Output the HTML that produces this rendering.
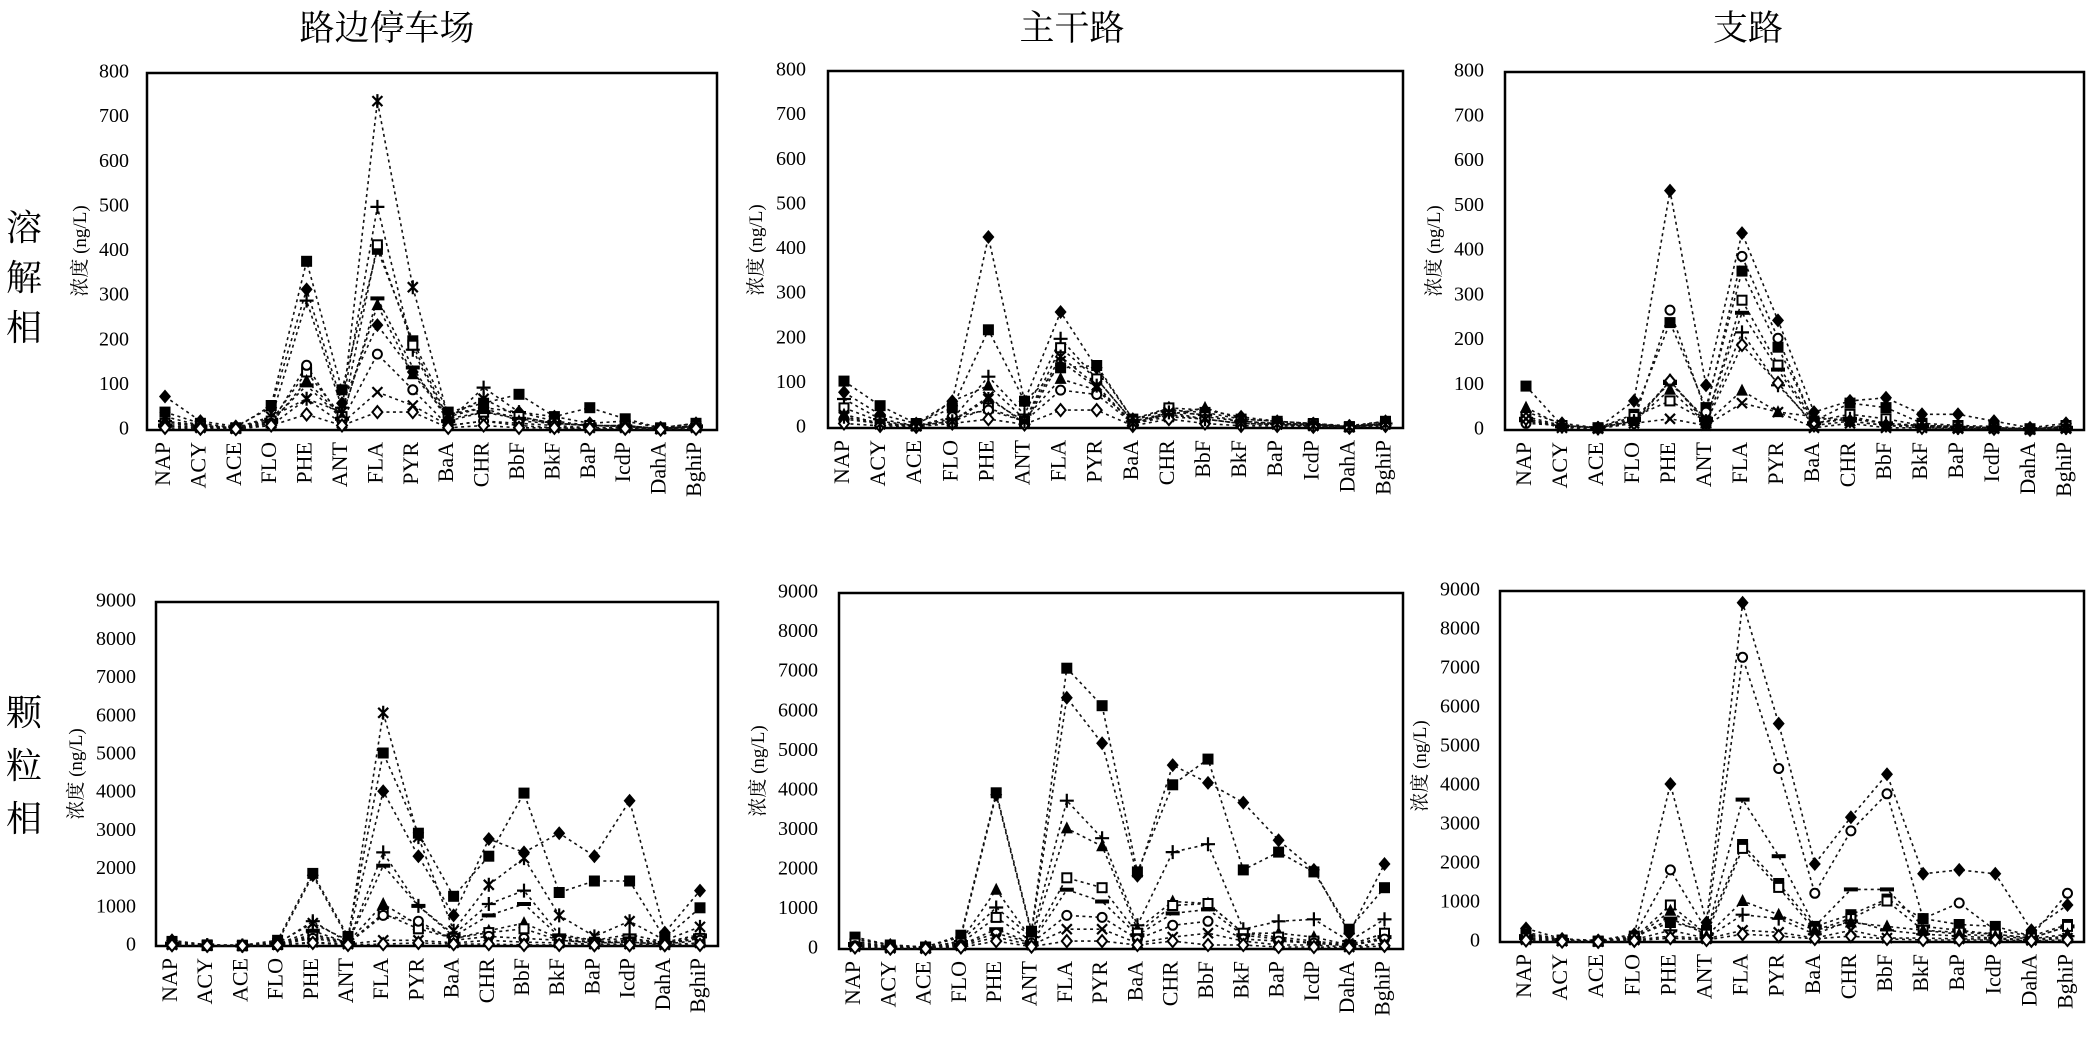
<!DOCTYPE html>
<html><head><meta charset="utf-8"><style>
html,body{margin:0;padding:0;background:#fff;}
svg{display:block;}
text{font-family:"Liberation Serif","Noto Serif CJK SC","Noto Sans CJK SC",serif;fill:#000;}
.t{font-size:20px;text-anchor:end;dominant-baseline:middle;}
.c{font-size:22px;text-anchor:end;dominant-baseline:middle;}
.yt{font-size:19px;text-anchor:middle;}
.h{font-size:35px;text-anchor:middle;}
.r{font-size:36px;text-anchor:middle;}
</style></head><body>
<svg id="s" width="2091" height="1046" viewBox="0 0 2091 1046" xmlns="http://www.w3.org/2000/svg">
<rect width="2091" height="1046" fill="#fff"/>
<text class="h" x="387" y="40">路边停车场</text>
<text class="h" x="1072" y="40">主干路</text>
<text class="h" x="1748" y="40">支路</text>
<text class="r" x="24" y="240">溶</text><text class="r" x="24" y="290">解</text><text class="r" x="24" y="340">相</text>
<text class="r" x="24" y="725">颗</text><text class="r" x="24" y="778">粒</text><text class="r" x="24" y="831">相</text>

<!-- Panel A -->
<rect x="147" y="73" width="570" height="357" fill="none" stroke="#000" stroke-width="2.5"/>
<g transform="translate(129,0)">
<text class="t" y="430">0</text><text class="t" y="385.4">100</text><text class="t" y="340.8">200</text><text class="t" y="296.1">300</text><text class="t" y="251.5">400</text><text class="t" y="206.9">500</text><text class="t" y="162.3">600</text><text class="t" y="117.6">700</text><text class="t" y="73">800</text>
</g>
<text class="yt" transform="translate(86,251) rotate(-90)">浓度 (ng/L)</text>
<g transform="translate(165,442)">
<text class="c" transform="translate(0,0) rotate(-90)">NAP</text><text class="c" transform="translate(35.4,0) rotate(-90)">ACY</text><text class="c" transform="translate(70.8,0) rotate(-90)">ACE</text><text class="c" transform="translate(106.2,0) rotate(-90)">FLO</text><text class="c" transform="translate(141.6,0) rotate(-90)">PHE</text><text class="c" transform="translate(177,0) rotate(-90)">ANT</text><text class="c" transform="translate(212.4,0) rotate(-90)">FLA</text><text class="c" transform="translate(247.8,0) rotate(-90)">PYR</text><text class="c" transform="translate(283.2,0) rotate(-90)">BaA</text><text class="c" transform="translate(318.6,0) rotate(-90)">CHR</text><text class="c" transform="translate(354,0) rotate(-90)">BbF</text><text class="c" transform="translate(389.4,0) rotate(-90)">BkF</text><text class="c" transform="translate(424.8,0) rotate(-90)">BaP</text><text class="c" transform="translate(460.2,0) rotate(-90)">IcdP</text><text class="c" transform="translate(495.6,0) rotate(-90)">DahA</text><text class="c" transform="translate(531,0) rotate(-90)">BghiP</text>
</g>

<!-- Panel B -->
<rect x="828" y="71" width="575" height="357" fill="none" stroke="#000" stroke-width="2.5"/>
<g transform="translate(806,0)">
<text class="t" y="428">0</text><text class="t" y="383.4">100</text><text class="t" y="338.8">200</text><text class="t" y="294.1">300</text><text class="t" y="249.5">400</text><text class="t" y="204.9">500</text><text class="t" y="160.3">600</text><text class="t" y="115.6">700</text><text class="t" y="71">800</text>
</g>
<text class="yt" transform="translate(762,250) rotate(-90)">浓度 (ng/L)</text>
<g transform="translate(844,440)">
<text class="c" transform="translate(0,0) rotate(-90)">NAP</text><text class="c" transform="translate(36.1,0) rotate(-90)">ACY</text><text class="c" transform="translate(72.2,0) rotate(-90)">ACE</text><text class="c" transform="translate(108.3,0) rotate(-90)">FLO</text><text class="c" transform="translate(144.4,0) rotate(-90)">PHE</text><text class="c" transform="translate(180.5,0) rotate(-90)">ANT</text><text class="c" transform="translate(216.6,0) rotate(-90)">FLA</text><text class="c" transform="translate(252.7,0) rotate(-90)">PYR</text><text class="c" transform="translate(288.8,0) rotate(-90)">BaA</text><text class="c" transform="translate(324.9,0) rotate(-90)">CHR</text><text class="c" transform="translate(361,0) rotate(-90)">BbF</text><text class="c" transform="translate(397.1,0) rotate(-90)">BkF</text><text class="c" transform="translate(433.2,0) rotate(-90)">BaP</text><text class="c" transform="translate(469.3,0) rotate(-90)">IcdP</text><text class="c" transform="translate(505.4,0) rotate(-90)">DahA</text><text class="c" transform="translate(541.5,0) rotate(-90)">BghiP</text>
</g>

<!-- Panel C -->
<rect x="1505" y="72" width="579" height="358" fill="none" stroke="#000" stroke-width="2.5"/>
<g transform="translate(1484,0)">
<text class="t" y="430">0</text><text class="t" y="385.3">100</text><text class="t" y="340.5">200</text><text class="t" y="295.8">300</text><text class="t" y="251">400</text><text class="t" y="206.3">500</text><text class="t" y="161.5">600</text><text class="t" y="116.8">700</text><text class="t" y="72">800</text>
</g>
<text class="yt" transform="translate(1440,251) rotate(-90)">浓度 (ng/L)</text>
<g transform="translate(1526,442)">
<text class="c" transform="translate(0,0) rotate(-90)">NAP</text><text class="c" transform="translate(36,0) rotate(-90)">ACY</text><text class="c" transform="translate(72,0) rotate(-90)">ACE</text><text class="c" transform="translate(108,0) rotate(-90)">FLO</text><text class="c" transform="translate(144,0) rotate(-90)">PHE</text><text class="c" transform="translate(180,0) rotate(-90)">ANT</text><text class="c" transform="translate(216,0) rotate(-90)">FLA</text><text class="c" transform="translate(252,0) rotate(-90)">PYR</text><text class="c" transform="translate(288,0) rotate(-90)">BaA</text><text class="c" transform="translate(324,0) rotate(-90)">CHR</text><text class="c" transform="translate(360,0) rotate(-90)">BbF</text><text class="c" transform="translate(396,0) rotate(-90)">BkF</text><text class="c" transform="translate(432,0) rotate(-90)">BaP</text><text class="c" transform="translate(468,0) rotate(-90)">IcdP</text><text class="c" transform="translate(504,0) rotate(-90)">DahA</text><text class="c" transform="translate(540,0) rotate(-90)">BghiP</text>
</g>

<!-- Panel D -->
<rect x="156" y="602" width="562" height="344" fill="none" stroke="#000" stroke-width="2.5"/>
<g transform="translate(136,0)">
<text class="t" y="946">0</text><text class="t" y="907.8">1000</text><text class="t" y="869.6">2000</text><text class="t" y="831.3">3000</text><text class="t" y="793.1">4000</text><text class="t" y="754.9">5000</text><text class="t" y="716.7">6000</text><text class="t" y="678.4">7000</text><text class="t" y="640.2">8000</text><text class="t" y="602">9000</text>
</g>
<text class="yt" transform="translate(82,774) rotate(-90)">浓度 (ng/L)</text>
<g transform="translate(172,958)">
<text class="c" transform="translate(0,0) rotate(-90)">NAP</text><text class="c" transform="translate(35.2,0) rotate(-90)">ACY</text><text class="c" transform="translate(70.4,0) rotate(-90)">ACE</text><text class="c" transform="translate(105.6,0) rotate(-90)">FLO</text><text class="c" transform="translate(140.8,0) rotate(-90)">PHE</text><text class="c" transform="translate(176,0) rotate(-90)">ANT</text><text class="c" transform="translate(211.2,0) rotate(-90)">FLA</text><text class="c" transform="translate(246.4,0) rotate(-90)">PYR</text><text class="c" transform="translate(281.6,0) rotate(-90)">BaA</text><text class="c" transform="translate(316.8,0) rotate(-90)">CHR</text><text class="c" transform="translate(352,0) rotate(-90)">BbF</text><text class="c" transform="translate(387.2,0) rotate(-90)">BkF</text><text class="c" transform="translate(422.4,0) rotate(-90)">BaP</text><text class="c" transform="translate(457.6,0) rotate(-90)">IcdP</text><text class="c" transform="translate(492.8,0) rotate(-90)">DahA</text><text class="c" transform="translate(528,0) rotate(-90)">BghiP</text>
</g>

<!-- Panel E -->
<rect x="839" y="593" width="564" height="356" fill="none" stroke="#000" stroke-width="2.5"/>
<g transform="translate(818,0)">
<text class="t" y="949">0</text><text class="t" y="909.4">1000</text><text class="t" y="869.9">2000</text><text class="t" y="830.3">3000</text><text class="t" y="790.8">4000</text><text class="t" y="751.2">5000</text><text class="t" y="711.7">6000</text><text class="t" y="672.1">7000</text><text class="t" y="632.6">8000</text><text class="t" y="593">9000</text>
</g>
<text class="yt" transform="translate(764,771) rotate(-90)">浓度 (ng/L)</text>
<g transform="translate(855,961)">
<text class="c" transform="translate(0,0) rotate(-90)">NAP</text><text class="c" transform="translate(35.3,0) rotate(-90)">ACY</text><text class="c" transform="translate(70.6,0) rotate(-90)">ACE</text><text class="c" transform="translate(105.9,0) rotate(-90)">FLO</text><text class="c" transform="translate(141.2,0) rotate(-90)">PHE</text><text class="c" transform="translate(176.5,0) rotate(-90)">ANT</text><text class="c" transform="translate(211.8,0) rotate(-90)">FLA</text><text class="c" transform="translate(247.1,0) rotate(-90)">PYR</text><text class="c" transform="translate(282.4,0) rotate(-90)">BaA</text><text class="c" transform="translate(317.7,0) rotate(-90)">CHR</text><text class="c" transform="translate(353,0) rotate(-90)">BbF</text><text class="c" transform="translate(388.3,0) rotate(-90)">BkF</text><text class="c" transform="translate(423.6,0) rotate(-90)">BaP</text><text class="c" transform="translate(458.9,0) rotate(-90)">IcdP</text><text class="c" transform="translate(494.2,0) rotate(-90)">DahA</text><text class="c" transform="translate(529.5,0) rotate(-90)">BghiP</text>
</g>

<!-- Panel F -->
<rect x="1500" y="591" width="584" height="351" fill="none" stroke="#000" stroke-width="2.5"/>
<g transform="translate(1480,0)">
<text class="t" y="942">0</text><text class="t" y="903">1000</text><text class="t" y="864">2000</text><text class="t" y="825">3000</text><text class="t" y="786">4000</text><text class="t" y="747">5000</text><text class="t" y="708">6000</text><text class="t" y="669">7000</text><text class="t" y="630">8000</text><text class="t" y="591">9000</text>
</g>
<text class="yt" transform="translate(1426,766) rotate(-90)">浓度 (ng/L)</text>
<g transform="translate(1526,954)">
<text class="c" transform="translate(0,0) rotate(-90)">NAP</text><text class="c" transform="translate(36.1,0) rotate(-90)">ACY</text><text class="c" transform="translate(72.2,0) rotate(-90)">ACE</text><text class="c" transform="translate(108.3,0) rotate(-90)">FLO</text><text class="c" transform="translate(144.4,0) rotate(-90)">PHE</text><text class="c" transform="translate(180.5,0) rotate(-90)">ANT</text><text class="c" transform="translate(216.6,0) rotate(-90)">FLA</text><text class="c" transform="translate(252.7,0) rotate(-90)">PYR</text><text class="c" transform="translate(288.8,0) rotate(-90)">BaA</text><text class="c" transform="translate(324.9,0) rotate(-90)">CHR</text><text class="c" transform="translate(361,0) rotate(-90)">BbF</text><text class="c" transform="translate(397.1,0) rotate(-90)">BkF</text><text class="c" transform="translate(433.2,0) rotate(-90)">BaP</text><text class="c" transform="translate(469.3,0) rotate(-90)">IcdP</text><text class="c" transform="translate(505.4,0) rotate(-90)">DahA</text><text class="c" transform="translate(541.5,0) rotate(-90)">BghiP</text>
</g>
<g id="plots"></g>
</svg>
<script>
var P=[
{c0:165,s:35.4,T:73,B:430,m:800,d:{
D:[75,20,8,50,315,60,235,130,35,50,40,30,15,20,5,15],
S:[40,15,5,55,378,90,405,200,40,60,80,30,50,25,5,15],
A:[30,10,5,30,70,40,737,320,30,70,30,15,10,10,3,10],
P:[20,10,5,25,290,50,500,180,20,95,40,20,10,10,3,10],
Q:[15,8,4,20,130,30,415,190,25,40,30,15,10,8,3,8],
M:[10,5,3,20,100,25,295,140,20,40,25,15,10,8,3,8],
T:[20,8,4,15,110,30,280,125,30,50,20,15,10,8,3,8],
O:[10,5,3,15,145,20,170,90,10,20,15,10,5,5,2,5],
X:[10,5,3,10,70,15,85,55,10,20,10,5,5,5,2,5],
d:[5,3,2,10,35,10,40,40,5,10,5,5,3,3,1,3]}},
{c0:844,s:36.1,T:71,B:428,m:800,d:{
D:[80,30,10,60,428,60,260,135,20,45,40,25,15,10,5,15],
S:[105,50,10,45,220,60,135,140,20,40,35,20,15,10,3,15],
P:[65,20,5,20,115,30,200,110,15,35,30,15,10,8,3,10],
Q:[45,15,5,15,45,15,180,110,15,45,25,15,10,8,3,10],
T:[30,10,5,60,95,20,110,85,15,30,45,20,15,8,3,10],
O:[20,10,5,25,40,15,85,75,10,30,20,10,8,5,2,8],
X:[30,10,5,15,70,10,150,90,10,25,20,10,8,5,2,8],
d:[10,5,3,10,20,8,40,40,5,20,10,5,5,3,1,5],
A:[25,8,4,15,65,15,160,95,10,35,20,10,8,5,2,8]}},
{c0:1526,s:36,T:72,B:430,m:800,d:{
D:[40,15,5,65,535,100,440,245,40,65,72,35,35,20,5,15],
S:[98,10,5,35,240,50,355,185,20,60,50,15,10,8,3,10],
O:[15,10,5,20,268,40,388,205,15,30,15,10,8,5,2,8],
Q:[30,10,5,30,65,20,290,145,20,35,25,10,8,5,2,8],
M:[25,8,4,25,105,25,262,135,15,25,15,8,5,5,2,5],
P:[20,8,4,20,110,20,218,100,15,25,15,8,5,5,2,5],
d:[25,8,4,15,110,15,190,105,10,20,10,5,5,3,1,5],
T:[50,10,5,20,90,15,88,40,30,20,10,10,5,5,2,5],
X:[25,5,3,15,25,10,60,40,5,15,5,5,3,3,1,3]}},
{c0:172,s:35.2,T:602,B:946,m:9000,d:{
D:[150,30,20,100,1850,200,4050,2350,800,2800,2450,2950,2350,3800,350,1450],
S:[120,30,20,150,1900,250,5050,2950,1300,2350,4000,1400,1700,1700,200,1000],
A:[100,20,10,80,600,150,6100,2850,400,1600,2300,800,250,650,150,500],
P:[80,20,10,60,650,100,2450,1050,300,1100,1450,300,150,300,100,300],
M:[60,15,10,50,400,80,2100,1050,250,800,1100,250,150,200,80,250],
T:[60,15,10,50,300,100,1100,550,200,400,600,200,100,150,80,200],
Q:[50,10,5,40,250,80,850,450,200,350,450,150,100,100,50,200],
O:[40,10,5,40,200,60,800,650,150,250,200,150,80,100,50,150],
X:[30,10,5,30,100,50,150,150,80,150,100,80,50,50,30,80],
d:[20,5,5,20,80,30,50,80,50,50,30,30,20,20,20,30]}},
{c0:855,s:35.3,T:593,B:949,m:9000,d:{
D:[250,100,50,300,3900,400,6350,5200,1850,4650,4200,3700,2750,2000,400,2150],
S:[300,100,50,350,3950,450,7100,6150,1950,4150,4800,2000,2450,1950,500,1550],
P:[150,50,30,200,1050,300,3750,2800,600,2450,2650,500,700,750,200,750],
T:[200,60,30,200,1500,250,3050,2600,500,1200,1150,400,400,300,100,400],
Q:[150,50,30,150,800,200,1800,1550,400,1100,1150,400,300,200,100,400],
M:[100,40,20,100,500,150,1500,1200,350,900,1000,350,250,150,80,300],
O:[80,30,20,100,400,150,850,800,250,600,700,250,200,150,80,250],
X:[60,20,10,80,300,100,500,500,150,300,400,200,100,100,50,150],
d:[40,10,5,40,200,60,200,200,100,200,100,100,50,50,30,80]}},
{c0:1526,s:36.1,T:591,B:942,m:9000,d:{
D:[350,80,40,200,4050,500,8700,5600,2000,3200,4300,1750,1850,1750,300,950],
O:[250,60,30,150,1850,300,7300,4450,1250,2850,3800,600,1000,300,150,1250],
M:[150,50,20,100,600,200,3650,2200,400,1350,1350,400,300,200,100,400],
S:[200,50,20,150,500,300,2500,1500,400,700,1100,600,450,400,150,450],
Q:[100,40,20,100,950,200,2400,1400,300,600,1050,300,250,200,100,400],
T:[100,30,20,80,800,150,1050,700,300,500,400,300,200,150,80,200],
P:[80,30,15,60,300,100,700,600,200,550,300,200,150,100,60,150],
X:[60,20,10,50,150,80,300,250,100,300,100,100,80,80,40,100],
d:[40,10,5,30,100,50,200,150,80,150,80,50,50,50,30,50]}}
];
function mk(t,x,y){
 var k='fill="#000"',o='fill="#fff" stroke="#000" stroke-width="2"',l='stroke="#000" stroke-width="2.2" fill="none"';
 switch(t){
 case'D':return '<polygon '+k+' points="'+x+','+(y-7)+' '+(x+6)+','+y+' '+x+','+(y+7)+' '+(x-6)+','+y+'"/>';
 case'S':return '<rect '+k+' x="'+(x-5.5)+'" y="'+(y-5.5)+'" width="11" height="11"/>';
 case'T':return '<polygon '+k+' points="'+x+','+(y-7)+' '+(x+6)+','+(y+5)+' '+(x-6)+','+(y+5)+'"/>';
 case'X':return '<path '+l+' d="M'+(x-5)+','+(y-5)+'L'+(x+5)+','+(y+5)+'M'+(x-5)+','+(y+5)+'L'+(x+5)+','+(y-5)+'"/>';
 case'A':return '<path '+l+' d="M'+(x-5)+','+(y-5)+'L'+(x+5)+','+(y+5)+'M'+(x-5)+','+(y+5)+'L'+(x+5)+','+(y-5)+'M'+x+','+(y-7)+'L'+x+','+(y+7)+'"/>';
 case'O':return '<circle '+o+' cx="'+x+'" cy="'+y+'" r="4.5"/>';
 case'Q':return '<rect '+o+' x="'+(x-4.5)+'" y="'+(y-4.5)+'" width="9" height="9"/>';
 case'P':return '<path '+l+' d="M'+(x-7)+','+y+'L'+(x+7)+','+y+'M'+x+','+(y-7)+'L'+x+','+(y+7)+'"/>';
 case'M':return '<rect '+k+' x="'+(x-7)+'" y="'+(y-2)+'" width="14" height="4"/>';
 case'd':return '<polygon '+o+' points="'+x+','+(y-6)+' '+(x+5)+','+y+' '+x+','+(y+6)+' '+(x-5)+','+y+'"/>';
 }}
var h='';
P.forEach(function(p){
 var lines='',marks='';
 for(var t in p.d){
  var a=p.d[t],pts=[];
  for(var i=0;i<16;i++){var x=p.c0+i*p.s,y=p.B-a[i]/p.m*(p.B-p.T);pts.push(x.toFixed(1)+','+y.toFixed(1));marks+=mk(t,+x.toFixed(1),+y.toFixed(1));}
  lines+='<polyline fill="none" stroke="#111" stroke-width="1.6" stroke-dasharray="3,3.5" points="'+pts.join(' ')+'"/>';
 }
 h+=lines+marks;
});
document.getElementById('plots').innerHTML=h;
</script>
</body></html>
